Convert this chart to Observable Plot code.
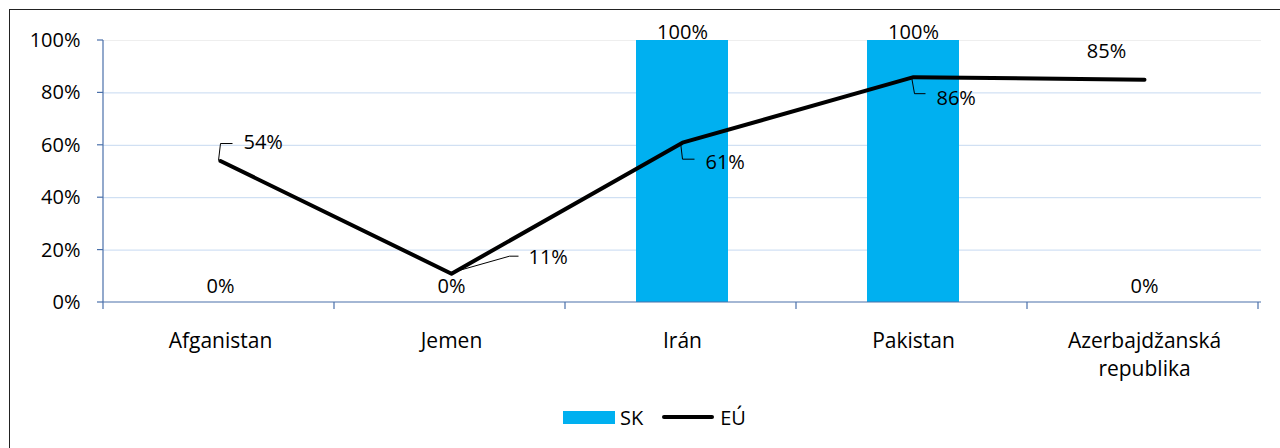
<!DOCTYPE html>
<html>
<head>
<meta charset="utf-8">
<script src="https://cdn.jsdelivr.net/npm/d3@7"></script>
<script src="https://cdn.jsdelivr.net/npm/@observablehq/plot@0.6"></script>
<style>
  html, body { margin: 0; padding: 0; background: #fff; }
  #wrap { position: relative; width: 1280px; height: 448px; overflow: hidden; font-family: "Open Sans", sans-serif; color: #000; }
  #border { position: absolute; left: 9px; top: 9px; width: 1400px; height: 600px; border: 1.5px solid #222; pointer-events: none; }
  #chart { position: absolute; left: 0; top: 0; }
  #legend { position: absolute; left: 563px; top: 404px; height: 26px; display: flex; align-items: center; font-size: 20px; }
  .sw { display: inline-block; width: 52px; height: 13px; background: #00B0F0; }
  .ln { display: inline-block; width: 52px; height: 4px; background: #000; border-radius: 2px; }
</style>
</head>
<body>
<div id="wrap">
  <div id="chart"></div>
  <div id="legend"></div>
  <div id="border"></div>
</div>
<script>
// ---- data ----
const categories = ["Afganistan", "Jemen", "Irán", "Pakistan", "Azerbajdžanská republika"];
const categoryLabels = ["Afganistan", "Jemen", "Irán", "Pakistan", "Azerbajdžanská\nrepublika"];
const skValues = [0, 0, 100, 100, 0];
const euValues = [54, 11, 61, 86, 85];
const yTicks = [0, 20, 40, 60, 80, 100];
const seriesNames = ["SK", "EÚ"];

// ---- styling ----
const barColor = "#00B0F0";
const axisColor = "#4A70AA";
const gridColor = "#C6D9F1";

const data = categories.map((c, i) => ({cat: c, sk: skValues[i], eu: euValues[i]}));

// label placement for EÚ data labels (pixel offsets from the point, like the original's leader lines)
const euPlacement = [
  {knee: [2, -17], end: [14, -17], text: [23, -18], anchor: "start"},
  {knee: [60, -17], end: [69, -17], text: [77, -16], anchor: "start"},
  {knee: [2, 17], end: [14, 17], text: [23, 20], anchor: "start"},
  {knee: [3, 17], end: [14, 17], text: [23, 21], anchor: "start"},
  {knee: null, end: null, text: [-38, -28], anchor: "middle"}
];

function decorations(index, scales, values, dimensions) {
  const {x, y} = scales;
  const {marginLeft, marginRight, marginTop, marginBottom, width, height} = dimensions;
  const x0 = marginLeft, x1 = width - marginRight, yb = height - marginBottom;
  const step = x(categories[1]) - x(categories[0]);
  const g = d3.create("svg:g").attr("fill", "none");
  // y axis line + ticks
  g.append("line").attr("x1", x0).attr("x2", x0).attr("y1", y(100)).attr("y2", yb)
    .attr("stroke", axisColor).attr("stroke-width", 1.2);
  for (const t of yTicks) {
    g.append("line").attr("x1", x0 - 6).attr("x2", x0).attr("y1", y(t)).attr("y2", y(t))
      .attr("stroke", axisColor).attr("stroke-width", 1.2);
  }
  // x axis line + boundary ticks
  g.append("line").attr("x1", x0).attr("x2", x1).attr("y1", yb).attr("y2", yb)
    .attr("stroke", axisColor).attr("stroke-width", 1.2);
  for (let i = 0; i <= categories.length; i++) {
    const bx = x0 + step * i;
    g.append("line").attr("x1", bx).attr("x2", bx).attr("y1", yb).attr("y2", yb + 7)
      .attr("stroke", axisColor).attr("stroke-width", 1.2);
  }
  // leader lines for EÚ labels
  data.forEach((d, i) => {
    const p = euPlacement[i];
    if (!p.knee) return;
    const px = x0 + step * (i + 0.5), py = y(d.eu);
    g.append("path")
      .attr("d", `M${px},${py}L${px + p.knee[0]},${py + p.knee[1]}L${px + p.end[0]},${py + p.end[1]}`)
      .attr("stroke", "#000").attr("stroke-width", 1);
  });
  return g.node();
}

const euLabelMarks = data.map((d, i) => Plot.text([d], {
  x: "cat", y: "eu", text: dd => dd.eu + "%",
  dx: euPlacement[i].text[0], dy: euPlacement[i].text[1],
  textAnchor: euPlacement[i].anchor, lineAnchor: "middle", fill: "#000"
}));

const chart = Plot.plot({
  width: 1280,
  height: 395,
  marginLeft: 103,
  marginRight: 19,
  marginTop: 40,
  marginBottom: 93,
  style: {fontFamily: "'Open Sans', sans-serif", fontSize: "20px", color: "#000", background: "transparent", overflow: "visible"},
  x: {domain: categories, paddingInner: 0.6, paddingOuter: 0.3, axis: null},
  y: {domain: [0, 100], axis: null},
  marks: [
    Plot.gridY([20, 40, 60, 80], {stroke: gridColor, strokeOpacity: 1}),
    Plot.gridY([100], {stroke: "#EEEEEE", strokeOpacity: 1}),
    Plot.axisY(yTicks, {tickSize: 0, tickPadding: 23, tickFormat: d => d + "%", label: null}),
    Plot.axisX({tickSize: 0, tickPadding: 25, lineHeight: 1.35, label: null, fontSize: 21,
      tickFormat: d => categoryLabels[categories.indexOf(d)]}),
    Plot.barY(data, {x: "cat", y: "sk", fill: barColor}),
    decorations,
    Plot.lineY(data, {x: "cat", y: "eu", stroke: "#000", strokeWidth: 4, strokeLinecap: "round", strokeLinejoin: "round"}),
    Plot.text(data.filter(d => d.sk === 0), {x: "cat", y: "sk", text: d => d.sk + "%", lineAnchor: "middle", dy: -16, fill: "#000"}),
    Plot.text(data.filter(d => d.sk !== 0), {x: "cat", y: "sk", text: d => d.sk + "%", lineAnchor: "middle", dy: -8, fill: "#000"}),
    ...euLabelMarks
  ]
});
document.getElementById("chart").appendChild(chart);

// legend
const legend = document.getElementById("legend");
legend.innerHTML =
  `<span class="sw"></span><span style="margin-left:5px">${seriesNames[0]}</span>` +
  `<span class="ln" style="margin-left:19px"></span><span style="margin-left:6px">${seriesNames[1]}</span>`;
</script>
</body>
</html>
